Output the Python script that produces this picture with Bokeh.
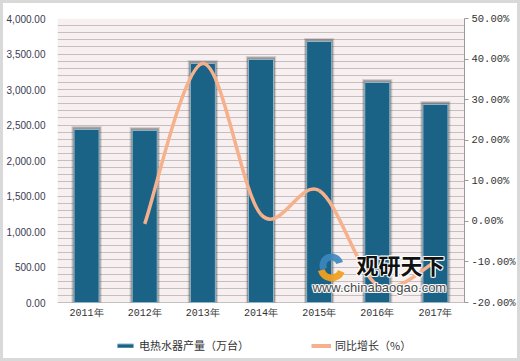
from bokeh.plotting import figure
from bokeh.models import (Range1d, LinearAxis, SingleIntervalTicker, NumeralTickFormatter,
                          Legend, LegendItem, Label, ColumnDataSource, BoxAnnotation,
                          CustomJSTickFormatter)
from bokeh.embed import file_html
from bokeh.resources import INLINE

years = ["2011年", "2012年", "2013年", "2014年", "2015年", "2016年", "2017年"]
output = [2437, 2423, 3366, 3423, 3676, 3099, 2789]
growth_years = ["2012年", "2013年", "2014年", "2015年", "2016年", "2017年"]
growth = [-0.6, 38.9, 1.7, 7.6, -15.7, -10.0]

BAR = "#1a6386"
LINE = "#f6b08c"

W, H = 520, 361
FL, FR, FT = 57, 464, 18          # frame edges in px
ZERO = 302                        # pixel row of the value axis' lower end
YMAX, PMIN, PMAX = 4000, -20, 50
ext = (H - ZERO) / (ZERO - FT)    # extra frame height below the axes, as a fraction
y_lo = -ext * YMAX
p_lo = PMIN - ext * (PMAX - PMIN)

p = figure(width=W, height=H, output_backend="svg", toolbar_location=None,
           x_range=Range1d(0, len(years)), y_range=Range1d(y_lo, YMAX),
           x_axis_location=None,
           min_border_left=FL, min_border_right=W - FR, min_border_top=FT,
           min_border_bottom=0, background_fill_color=None,
           border_fill_color=None, outline_line_color=None)
p.styles = {"background-color": "white", "box-shadow": "inset 0 0 0 3px #d9d9d9"}
p.extra_y_ranges = {"pct": Range1d(p_lo, PMAX)}

xc = [i + 0.5 for i in range(len(years))]

# plot-area background
p.add_layout(BoxAnnotation(left=0, right=len(years), bottom=0, top=YMAX,
                           fill_color="#f8f0f0", fill_alpha=1, line_color=None,
                           level="image"))

p.yaxis.ticker = SingleIntervalTicker(interval=500, num_minor_ticks=5)
p.yaxis.formatter = NumeralTickFormatter(format="0,0.00")
p.yaxis.bounds = (0, YMAX)
p.yaxis.axis_line_color = None
p.yaxis.major_tick_line_color = None
p.yaxis.minor_tick_line_color = None
p.yaxis.major_tick_out = 0
p.yaxis.minor_tick_out = 0
p.yaxis.major_label_standoff = 12
p.yaxis.major_label_text_font = "Liberation Sans"
p.yaxis.major_label_text_font_size = "10px"
p.yaxis.major_label_text_color = "#3a3a50"

ax2 = LinearAxis(y_range_name="pct", ticker=SingleIntervalTicker(interval=10),
                 formatter=CustomJSTickFormatter(code="return tick.toFixed(2) + '%';"),
                 bounds=(PMIN, PMAX))
p.add_layout(ax2, "right")
ax2.axis_line_color = "#9a9a9a"
ax2.major_tick_line_color = "#9a9a9a"
ax2.major_tick_in = 0
ax2.major_tick_out = 4
ax2.minor_tick_line_color = None
ax2.minor_tick_out = 0
ax2.major_label_standoff = 3
ax2.major_label_text_font = "Liberation Mono"
ax2.major_label_text_font_size = "10.5px"
ax2.major_label_text_color = "#333333"

p.xgrid.grid_line_color = None
p.ygrid.ticker = SingleIntervalTicker(interval=500, num_minor_ticks=5)
p.ygrid.bounds = (0, YMAX)
p.ygrid.grid_line_color = "#c4c0c0"
p.ygrid.minor_grid_line_color = "#c4c0c0"

# category labels under the bars
lab_y = -(313 - ZERO) / (ZERO - FT) * YMAX
p.text(x=xc, y=[lab_y] * len(years), text=years, text_align="center",
       text_baseline="middle", text_font_size="10px", text_color="#333333",
       text_font={"value": "Liberation Mono"})

# bar shadows
src = ColumnDataSource(dict(x=xc, top=output, top_s=[v + 50 for v in output],
                            top_s2=[v + 30 for v in output]))
p.vbar(x="x", top="top_s", width=0.52, source=src, fill_color="#444444",
       fill_alpha=0.2, line_color=None)
p.vbar(x="x", top="top_s2", width=0.48, source=src, fill_color="#444444",
       fill_alpha=0.4, line_color=None)
bars = p.vbar(x="x", top="top", width=0.43, source=src, fill_color=BAR,
              line_color="#8fb3c7", line_width=1)

# smoothed growth line with cubic bezier segments
gx = [xc[years.index(y)] for y in growth_years]
n = len(gx)
pts = list(zip(gx, growth))
seg = dict(x0=[], y0=[], x1=[], y1=[], cx0=[], cy0=[], cx1=[], cy1=[])
for i in range(n - 1):
    p0 = pts[i - 1] if i > 0 else pts[i]
    p1 = pts[i]
    p2 = pts[i + 1]
    p3 = pts[i + 2] if i + 2 < n else pts[i + 1]
    seg["x0"].append(p1[0]); seg["y0"].append(p1[1])
    seg["x1"].append(p2[0]); seg["y1"].append(p2[1])
    seg["cx0"].append(p1[0] + (p2[0] - p0[0]) / 6)
    seg["cy0"].append(p1[1] + (p2[1] - p0[1]) / 6)
    seg["cx1"].append(p2[0] - (p3[0] - p1[0]) / 6)
    seg["cy1"].append(p2[1] - (p3[1] - p1[1]) / 6)
p.bezier(source=ColumnDataSource(seg), x0="x0", y0="y0", x1="x1", y1="y1",
         cx0="cx0", cy0="cy0", cx1="cx1", cy1="cy1", y_range_name="pct",
         line_color=LINE, line_width=3.5)
# undrawable (NaN) line renderer that only supplies the legend swatch
nan = float("nan")
legline = p.line(x=[nan], y=[nan], y_range_name="pct", line_color=LINE, line_width=4)

# watermark
def dx(px):
    return (px - FL) / (FR - FL) * len(years)

def dy(py):
    return (ZERO - py) / (ZERO - FT) * YMAX

p.annular_wedge(x=[dx(331)], y=[dy(265)], inner_radius=5, outer_radius=12,
                inner_radius_units="screen", outer_radius_units="screen",
                start_angle=0.3, end_angle=3.6,
                fill_color="#3b86c0", fill_alpha=0.9, line_color=None)
p.annular_wedge(x=[dx(331)], y=[dy(267)], inner_radius=7, outer_radius=14,
                inner_radius_units="screen", outer_radius_units="screen",
                start_angle=3.4, end_angle=5.9,
                fill_color="#f0a020", fill_alpha=0.95, line_color=None)
for ox, oy in [(-1, 0), (1, 0), (0, -1), (0, 1), (-1, -1), (1, 1), (-1, 1), (1, -1)]:
    p.add_layout(Label(x=dx(356), y=dy(279), x_offset=ox, y_offset=oy, text="观研天下",
                       text_font="Noto Sans CJK SC", text_font_style="bold",
                       text_font_size="22px", text_color="white", text_alpha=0.8))
    p.add_layout(Label(x=dx(312), y=dy(294), x_offset=ox, y_offset=oy,
                       text="www.chinabaogao.com", text_font="Liberation Sans",
                       text_font_size="13px", text_color="white", text_alpha=0.8))
p.add_layout(Label(x=dx(356), y=dy(279), text="观研天下", text_font="Noto Sans CJK SC",
                   text_font_style="bold", text_font_size="22px", text_color="#111111"))
p.add_layout(Label(x=dx(312), y=dy(294), text="www.chinabaogao.com",
                   text_font="Liberation Sans", text_font_size="13px",
                   text_color="#4a4a4a"))

legend = Legend(items=[LegendItem(label="电热水器产量（万台）", renderers=[bars]),
                       LegendItem(label="同比增长（%）", renderers=[legline])],
                orientation="horizontal", location=(58, 8),
                background_fill_alpha=0, border_line_color=None,
                label_text_font="Noto Sans CJK SC", label_text_font_size="11px",
                label_text_color="#333333", glyph_width=20, glyph_height=5,
                label_standoff=4, spacing=62, padding=5)
p.add_layout(legend, "center")

open("out.html", "w").write(file_html(p, INLINE))
